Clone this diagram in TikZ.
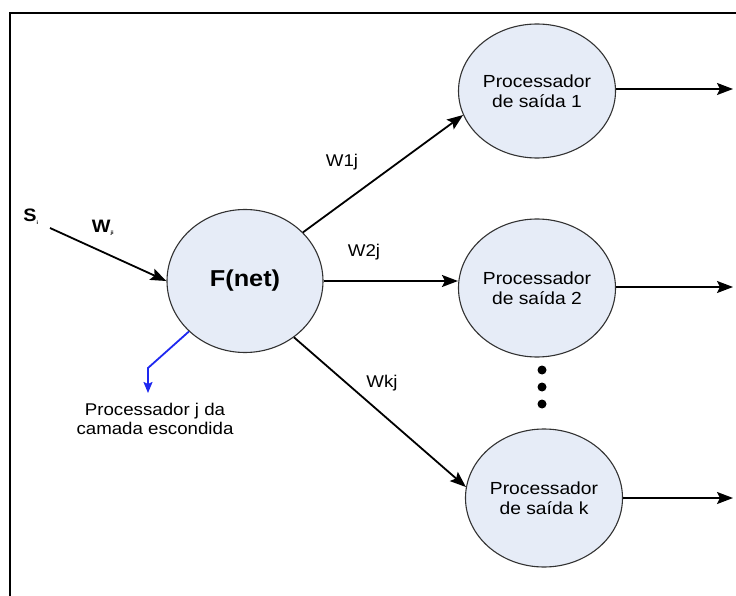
\documentclass[tikz,border=0pt]{standalone}
\usepackage{fontspec}
\setmainfont{Liberation Sans}[FakeStretch=1.1]
\usetikzlibrary{arrows.meta,shapes.geometric}
\definecolor{nodefill}{RGB}{230,236,247}
\definecolor{nodeline}{RGB}{50,50,50}
\definecolor{hidblue}{RGB}{30,40,240}
\tikzset{
  proc/.style={ellipse,draw=nodeline,line width=1.1pt,fill=nodefill,
    minimum width=157pt,minimum height=138pt,inner sep=0pt,align=center,
    font=\fontsize{17.5}{20}\selectfont},
  conn/.style={line width=1.8pt,-{Stealth[length=16pt,width=12pt,inset=3pt]}},
  wlab/.style={font=\fontsize{17}{18}\selectfont,inner sep=0pt},
  dotn/.style={circle,fill=black,inner sep=0pt,minimum size=9pt}
}
\begin{document}
\begin{tikzpicture}[x=1pt,y=-1pt]
\useasboundingbox (0,0) rectangle (736,596);
\fill[white] (0,0) rectangle (736,596);
\draw[line width=2.6pt] (736,13) -- (10,13) -- (10,596);

\node[proc,minimum width=156pt,minimum height=143pt,
      font=\fontsize{23}{26}\selectfont\bfseries] (F) at (245,281) {F(net)};
\node[proc,minimum height=134pt] (o1) at (537,91) {Processador\\de saída 1};
\node[proc] (o2) at (537,288) {Processador\\de saída 2};
\node[proc] (ok) at (544,498) {Processador\\de saída k};

\node[dotn] (d1) at (542,370) {};
\node[dotn] (d2) at (542,387) {};
\node[dotn] (d3) at (542,404) {};

% input
\node[font=\fontsize{18}{18}\selectfont\bfseries,inner sep=0pt] (s) at (31,217) {S\textsubscript{\tiny i}};
\node[font=\fontsize{18}{18}\selectfont\bfseries,inner sep=0pt] (wji) at (103,228) {W\textsubscript{\tiny ji}};
\coordinate (sin) at (50,228);
\draw[conn] (sin) -- (F.180);

% hidden arrows
\draw[conn] (F.40) -- (o1.198);
\draw[conn] (F.east) -- (F.east -| o2.west);
\draw[conn] (F.311) -- (ok.172);

\node[wlab] (w1) at (342,162) {W1j};
\node[wlab] (w2) at (364,252) {W2j};
\node[wlab] (wk) at (382,383) {Wkj};

% outputs
\coordinate (e1) at (733,89);
\coordinate (e2) at (733,287);
\coordinate (ek) at (733,498);
\draw[conn] (o1.east |- e1) -- (e1);
\draw[conn] (o2.east |- e2) -- (e2);
\draw[conn] (ok.east |- ek) -- (ek);

% hidden layer label
\node[align=center,font=\fontsize{17}{18.5}\selectfont,inner sep=0pt] (lbl) at (155,419)
  {Processador j da\\camada escondida};
\coordinate (b1) at (148,368);
\coordinate (b2) at (148,393);
\draw[hidblue,line width=1.8pt,-{Stealth[length=11pt,width=9pt,inset=2pt]}]
  (F.222) -- (b1) -- (b2);
\end{tikzpicture}
\end{document}
